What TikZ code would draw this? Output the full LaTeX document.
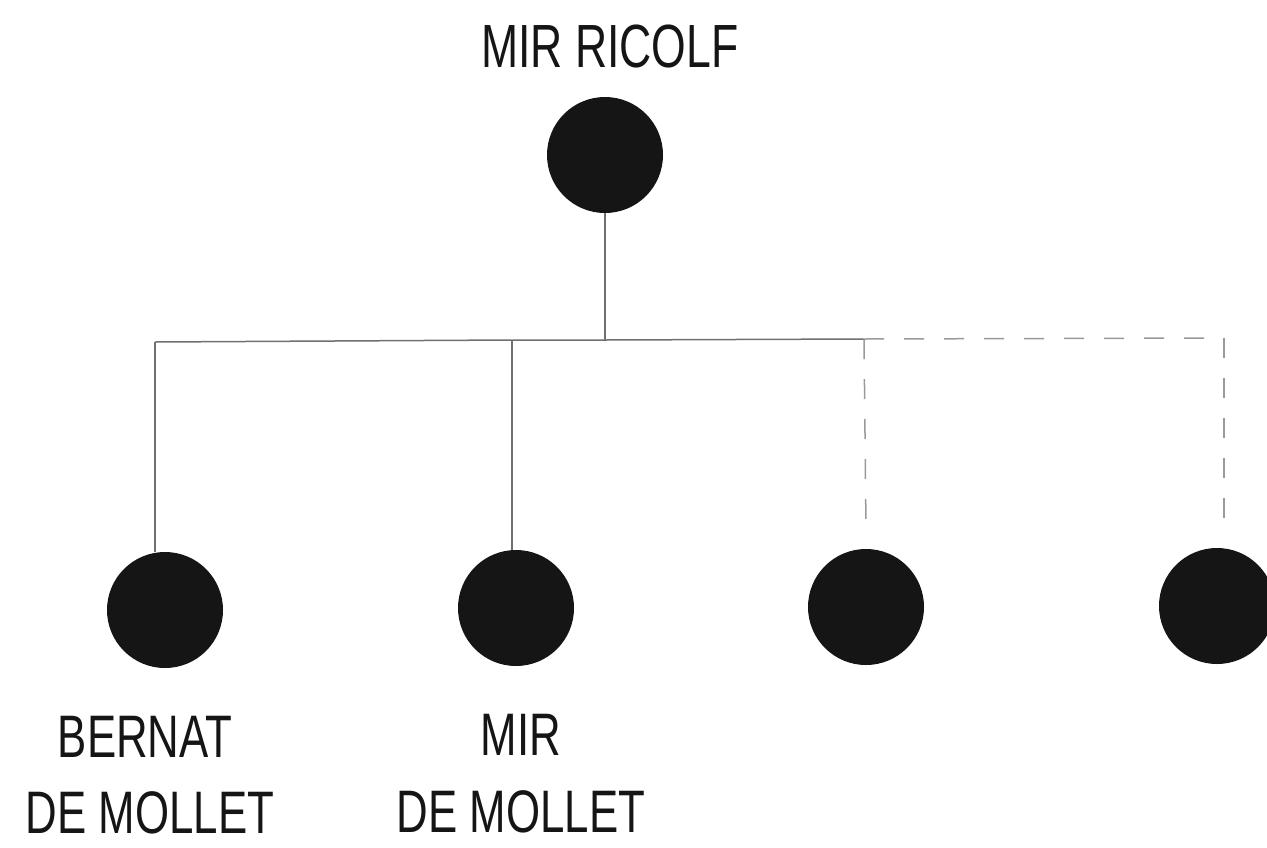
\documentclass[tikz,border=0pt]{standalone}
\usepackage{fontspec}
\newfontfamily\condfont[FakeStretch=0.73]{Liberation Sans}
\definecolor{ink}{HTML}{151515}
\definecolor{linegray}{HTML}{707070}
\definecolor{dashgray}{HTML}{9A9A9A}
\begin{document}
\begin{tikzpicture}[x=1pt,y=-1pt,
  dot/.style={circle,fill=ink,draw=none,minimum size=116pt,inner sep=0pt},
  lbl/.style={anchor=base,inner sep=0pt,text=ink,font=\condfont\fontsize{60}{60}\selectfont},
  toplbl/.style={lbl,font=\condfont\fontsize{61}{61}\selectfont},
  solidline/.style={draw=linegray,line width=1.5pt},
  dashline/.style={draw=dashgray,line width=1.5pt,dash pattern=on 20pt off 20pt}]
\useasboundingbox (0,0) rectangle (1267,847);
\fill[white] (0,0) rectangle (1267,847);
% nodes
\node[toplbl] (tname) at (610,67) {MIR RICOLF};
\node[dot] (r) at (605,155) {};
\node[dot] (a) at (165,610) {};
\node[dot] (b) at (516,608) {};
\node[dot] (c) at (866,607) {};
\node[dot] (d) at (1217,606) {};
\node[lbl] (a1) at (145,757) {BERNAT};
\node[lbl] (a2) at (150,833) {DE MOLLET};
\node[lbl] (b1) at (521,755) {MIR};
\node[lbl] (b2) at (521,832) {DE MOLLET};
% junction coordinates
\coordinate (j) at (605,340);
\coordinate (ja) at (155,342);
\coordinate (jb) at (512,340);
\coordinate (jc) at (864,339);
\coordinate (jd) at (1224,338);
\coordinate (ec) at (866,528);
\coordinate (ed) at (1224,528);
% connectors
\draw[solidline] (r.south) -- (j);
\draw[solidline] (ja) -- (jb) -- (j) -- (jc);
\draw[dashline] (jc) -- (jd);
\draw[solidline] (ja) -- (ja |- a.north);
\draw[solidline] (jb) -- (jb |- b.north);
\draw[dashline] (jc) -- (ec);
\draw[dashline] (jd) -- (ed);
\end{tikzpicture}
\end{document}
